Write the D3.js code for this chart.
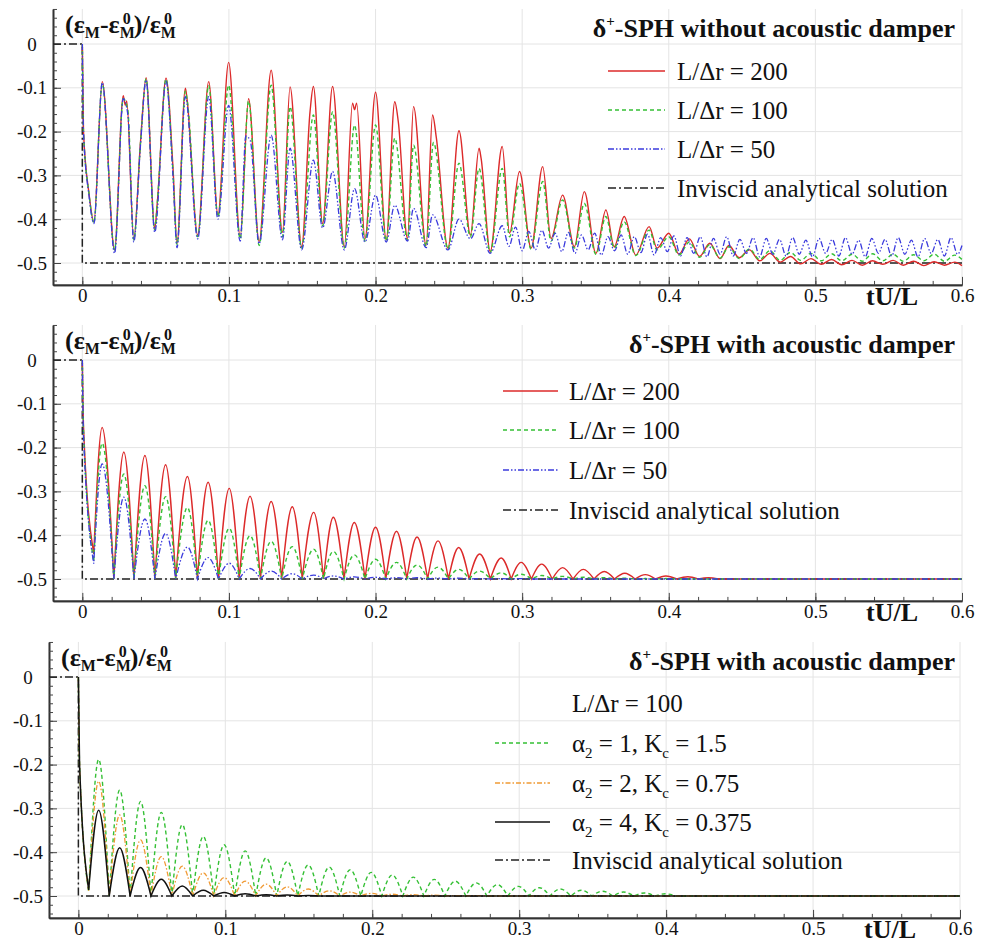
<!DOCTYPE html>
<html>
<head>
<meta charset="utf-8">
<title>Energy decay</title>
<script src="https://d3js.org/d3.v7.min.js"></script>
<style>
body { margin: 0; background: #fff; }
text { font-family: 'Liberation Serif', 'Times New Roman', serif; fill: #111; }
</style>
</head>
<body>
<script>
// ---------- data ----------
// panel 1 : delta+-SPH without acoustic damper, [tU/L, value]
var p1Red = [[0,0],[0.0008,-0.2],[0.0045,-0.34],[0.0079,-0.406],[0.0136,-0.086],[0.022,-0.47],[0.0279,-0.118],[0.0293,-0.14],[0.0303,-0.13],[0.0351,-0.445],[0.0397,-0.223],[0.0435,-0.077],[0.0494,-0.421],[0.0512,-0.36],[0.0571,-0.078],[0.0618,-0.28],[0.0646,-0.455],[0.0703,-0.101],[0.0715,-0.128],[0.0787,-0.436],[0.0862,-0.086],[0.0925,-0.39],[0.0998,-0.042],[0.1077,-0.44],[0.1134,-0.125],[0.1206,-0.451],[0.1288,-0.06],[0.1365,-0.43],[0.1417,-0.098],[0.1496,-0.463],[0.1553,-0.155],[0.1576,-0.097],[0.1639,-0.41],[0.1707,-0.097],[0.1787,-0.463],[0.1843,-0.135],[0.1857,-0.15],[0.1871,-0.135],[0.1928,-0.445],[0.2,-0.11],[0.2073,-0.447],[0.2131,-0.132],[0.2155,-0.177],[0.2218,-0.444],[0.2259,-0.143],[0.2345,-0.459],[0.2389,-0.162],[0.2415,-0.215],[0.2494,-0.466],[0.2569,-0.198],[0.2647,-0.436],[0.2706,-0.238],[0.272,-0.261],[0.2782,-0.474],[0.2864,-0.234],[0.2914,-0.432],[0.2982,-0.291],[0.3061,-0.466],[0.314,-0.28],[0.3197,-0.444],[0.3276,-0.345],[0.3356,-0.463],[0.3424,-0.337],[0.3503,-0.478],[0.3571,-0.379],[0.3628,-0.463],[0.3696,-0.394],[0.3775,-0.482],[0.3866,-0.417],[0.392,-0.466],[0.4,-0.432],[0.407,-0.48],[0.414,-0.445],[0.421,-0.485],[0.428,-0.455],[0.435,-0.49],[0.441,-0.46],[0.448,-0.488],[0.455,-0.47],[0.462,-0.495],[0.469,-0.478],[0.476,-0.498],[0.483,-0.485],[0.49,-0.502],[0.497,-0.49],[0.504,-0.503],[0.511,-0.492],[0.518,-0.504],[0.525,-0.494],[0.532,-0.505],[0.539,-0.495],[0.546,-0.503],[0.553,-0.494],[0.56,-0.505],[0.567,-0.496],[0.574,-0.506],[0.581,-0.497],[0.588,-0.505],[0.595,-0.498],[0.6,-0.506]];
var p1Green = [[0,0],[0.0008,-0.2],[0.0045,-0.34],[0.0079,-0.408],[0.0136,-0.09],[0.022,-0.47],[0.0279,-0.125],[0.031,-0.15],[0.0351,-0.447],[0.0397,-0.225],[0.0435,-0.08],[0.0494,-0.424],[0.0512,-0.36],[0.0571,-0.08],[0.0618,-0.29],[0.0646,-0.458],[0.0703,-0.108],[0.0718,-0.135],[0.0787,-0.44],[0.0862,-0.095],[0.0925,-0.395],[0.0998,-0.094],[0.1077,-0.445],[0.1134,-0.13],[0.1206,-0.46],[0.1288,-0.094],[0.1365,-0.44],[0.1417,-0.143],[0.1496,-0.466],[0.1576,-0.162],[0.1639,-0.415],[0.1707,-0.155],[0.1787,-0.466],[0.1857,-0.185],[0.1928,-0.45],[0.2,-0.185],[0.2073,-0.45],[0.2131,-0.215],[0.2218,-0.448],[0.2259,-0.231],[0.2345,-0.462],[0.2395,-0.225],[0.2494,-0.468],[0.2569,-0.272],[0.2647,-0.44],[0.2706,-0.284],[0.2782,-0.476],[0.2864,-0.284],[0.2914,-0.44],[0.2982,-0.318],[0.3061,-0.468],[0.314,-0.314],[0.3197,-0.45],[0.3276,-0.356],[0.3356,-0.466],[0.3424,-0.364],[0.3503,-0.48],[0.3571,-0.394],[0.3628,-0.466],[0.3696,-0.406],[0.3775,-0.483],[0.3866,-0.425],[0.392,-0.47],[0.4,-0.44],[0.407,-0.482],[0.414,-0.452],[0.421,-0.487],[0.428,-0.458],[0.435,-0.489],[0.441,-0.463],[0.448,-0.49],[0.455,-0.468],[0.462,-0.492],[0.469,-0.472],[0.476,-0.494],[0.483,-0.476],[0.49,-0.494],[0.497,-0.478],[0.504,-0.495],[0.511,-0.479],[0.518,-0.495],[0.525,-0.48],[0.532,-0.496],[0.539,-0.479],[0.546,-0.495],[0.553,-0.48],[0.56,-0.496],[0.567,-0.481],[0.574,-0.495],[0.581,-0.48],[0.588,-0.496],[0.595,-0.482],[0.6,-0.492]];
var p1Blue = [[0,0],[0.0008,-0.2],[0.0045,-0.345],[0.0079,-0.41],[0.0136,-0.088],[0.022,-0.478],[0.0279,-0.125],[0.031,-0.16],[0.0351,-0.452],[0.0397,-0.23],[0.0435,-0.082],[0.0494,-0.43],[0.0571,-0.085],[0.0618,-0.3],[0.0646,-0.465],[0.0703,-0.12],[0.0787,-0.445],[0.0862,-0.12],[0.0925,-0.4],[0.0998,-0.14],[0.1077,-0.45],[0.1115,-0.21],[0.1145,-0.22],[0.1206,-0.456],[0.1288,-0.208],[0.1365,-0.447],[0.1417,-0.238],[0.1496,-0.47],[0.1576,-0.265],[0.1639,-0.42],[0.1707,-0.291],[0.1787,-0.47],[0.1857,-0.33],[0.1928,-0.452],[0.2,-0.345],[0.2073,-0.452],[0.2131,-0.368],[0.2218,-0.45],[0.2259,-0.375],[0.2345,-0.465],[0.2389,-0.39],[0.2494,-0.47],[0.2569,-0.4],[0.2647,-0.445],[0.2706,-0.41],[0.2782,-0.478],[0.2864,-0.415],[0.291,-0.462],[0.2955,-0.418],[0.3,-0.472],[0.3045,-0.428],[0.309,-0.47],[0.3135,-0.425],[0.318,-0.466],[0.3225,-0.432],[0.327,-0.474],[0.3315,-0.43],[0.336,-0.478],[0.3405,-0.436],[0.345,-0.47],[0.3495,-0.432],[0.354,-0.482],[0.3585,-0.44],[0.363,-0.472],[0.3675,-0.436],[0.372,-0.48],[0.3765,-0.44],[0.381,-0.476],[0.3855,-0.434],[0.39,-0.482],[0.3945,-0.442],[0.399,-0.474],[0.4035,-0.438],[0.408,-0.484],[0.4125,-0.442],[0.417,-0.478],[0.4215,-0.44],[0.426,-0.486],[0.4305,-0.444],[0.435,-0.48],[0.4395,-0.44],[0.444,-0.484],[0.4485,-0.446],[0.453,-0.478],[0.4575,-0.442],[0.462,-0.486],[0.4665,-0.444],[0.471,-0.48],[0.4755,-0.446],[0.48,-0.484],[0.4845,-0.442],[0.489,-0.48],[0.4935,-0.448],[0.498,-0.486],[0.5025,-0.444],[0.507,-0.478],[0.5115,-0.446],[0.516,-0.484],[0.5205,-0.442],[0.525,-0.48],[0.5295,-0.448],[0.534,-0.486],[0.5385,-0.444],[0.543,-0.478],[0.5475,-0.446],[0.552,-0.484],[0.5565,-0.442],[0.561,-0.48],[0.5655,-0.448],[0.57,-0.486],[0.5745,-0.444],[0.579,-0.478],[0.5835,-0.446],[0.588,-0.484],[0.5925,-0.442],[0.597,-0.48],[0.6,-0.46]];

// panel 2 : with acoustic damper, peaks and troughs of each arch
var p2PeakT = [0.0135,0.0283,0.0427,0.0568,0.0717,0.0858,0.1002,0.1144,0.1288,0.1432,0.1578,0.1712,0.1855,0.2,0.2143,0.2283,0.2426,0.2567,0.271,0.2857,0.2993,0.3133,0.3276,0.3417,0.356,0.37,0.384,0.398,0.413,0.427];
var p2TroughT = [0.0078,0.0215,0.0352,0.0495,0.0637,0.0785,0.0929,0.107,0.1215,0.136,0.15,0.1645,0.1785,0.1928,0.207,0.2213,0.2355,0.2497,0.2638,0.2783,0.2925,0.3063,0.3205,0.3347,0.349,0.363,0.377,0.391,0.4055,0.42,0.434];
var p2Red = [-0.154,-0.21,-0.218,-0.239,-0.266,-0.279,-0.293,-0.311,-0.323,-0.335,-0.348,-0.359,-0.371,-0.382,-0.391,-0.404,-0.413,-0.428,-0.443,-0.452,-0.462,-0.466,-0.474,-0.478,-0.483,-0.487,-0.49,-0.493,-0.495,-0.497];
var p2Green = [-0.19,-0.26,-0.287,-0.312,-0.337,-0.366,-0.384,-0.401,-0.414,-0.426,-0.432,-0.437,-0.445,-0.455,-0.462,-0.468,-0.473,-0.478,-0.482,-0.486,-0.489,-0.492,-0.494,-0.496,-0.497,-0.498,-0.499,-0.499,-0.5,-0.5];
var p2Blue = [-0.237,-0.313,-0.363,-0.396,-0.427,-0.451,-0.464,-0.476,-0.482,-0.488,-0.491,-0.493,-0.495,-0.496,-0.497,-0.497,-0.498,-0.498,-0.499,-0.499,-0.499,-0.5,-0.5,-0.5,-0.5,-0.5,-0.5,-0.5,-0.5,-0.5];
var p2FirstDrop = [-0.15, -0.16, -0.17];      // value just after t=0 (red, green, blue)
var p2FirstTrough = [-0.443, -0.46, -0.465];  // first trough (red, green, blue)

// panel 3 : L/dr = 100 with three damper settings
var p3PeakT = [0.0138,0.0281,0.0423,0.0564,0.0707,0.085,0.0992,0.1135,0.1278,0.1421,0.1564,0.1707,0.185,0.1993,0.2136,0.2279,0.2422,0.2565,0.2708,0.2851,0.2994,0.3137,0.328,0.3423,0.3566,0.3709,0.3852,0.3995];
var p3TroughT = [0.007,0.021,0.0352,0.0494,0.0636,0.0778,0.0921,0.1064,0.1207,0.135,0.1493,0.1636,0.1779,0.1922,0.2065,0.2208,0.2351,0.2494,0.2637,0.278,0.2923,0.3066,0.3209,0.3352,0.3495,0.3638,0.3781,0.3924,0.4067];
var p3Green = [-0.188,-0.258,-0.284,-0.309,-0.337,-0.364,-0.383,-0.397,-0.413,-0.421,-0.429,-0.434,-0.44,-0.446,-0.452,-0.457,-0.462,-0.466,-0.47,-0.474,-0.478,-0.481,-0.484,-0.487,-0.489,-0.491,-0.493,-0.495];
var p3Orange = [-0.238,-0.315,-0.372,-0.41,-0.432,-0.447,-0.458,-0.466,-0.473,-0.479,-0.484,-0.488,-0.491,-0.494,-0.496,-0.497,-0.498,-0.499,-0.499,-0.5,-0.5,-0.5,-0.5,-0.5,-0.5,-0.5,-0.5,-0.5];
var p3Black = [-0.304,-0.39,-0.435,-0.462,-0.477,-0.487,-0.492,-0.495,-0.497,-0.498,-0.499,-0.5,-0.5,-0.5,-0.5,-0.5,-0.5,-0.5,-0.5,-0.5,-0.5,-0.5,-0.5,-0.5,-0.5,-0.5,-0.5,-0.5];
var p3FirstDrop = [-0.2, -0.2, -0.2];
var p3FirstTrough = [-0.49, -0.488, -0.486];

var FLOOR = -0.5;          // inviscid analytical level
var T_END = 0.6;
var yTicks = [0, -0.1, -0.2, -0.3, -0.4, -0.5];
var xTicks = [0, 0.1, 0.2, 0.3, 0.4, 0.5, 0.6];

// ---------- styles ----------
var SERIF = "'Liberation Serif', 'Times New Roman', serif";
var RED = "#dc2a2a", GREEN = "#35c035", BLUE = "#3b3bdd", ORANGE = "#f09a35", BLACK = "#111";
var styles = {
  red:    {color: RED, dash: null, w: 1.4},
  green:  {color: GREEN, dash: "4,3", w: 1.4},
  blue:   {color: BLUE, dash: "6,2,1.5,2,1.5,2", w: 1.3},
  orange: {color: ORANGE, dash: "5,2,1.5,2", w: 1.3},
  black:  {color: BLACK, dash: null, w: 1.5},
  inv:    {color: "#222", dash: "8,3,2,3", w: 1.5}
};

var W = 984, H = 943;
var svg = d3.select("body").append("svg").attr("width", W).attr("height", H);

// build arch series from peak / trough tables
function archSeries(peakT, troughT, peaks, firstDrop, firstTrough) {
  var pts = [[0, 0], [0.0008, firstDrop]];
  for (var i = 0; i < troughT.length; i++) {
    pts.push([troughT[i], i == 0 ? firstTrough : FLOOR]);
    if (i < peaks.length) pts.push([peakT[i], peaks[i]]);
  }
  pts.push([T_END, FLOOR]);
  return pts;
}

// path that is smooth on the crests and pointed at the troughs
function archPath(pts, x, y) {
  var line = d3.line().x(function(d){return x(d[0]);}).y(function(d){return y(d[1]);}).curve(d3.curveMonotoneX);
  var segs = [], cur = [pts[0]];
  for (var i = 1; i < pts.length; i++) {
    cur.push(pts[i]);
    if (i < pts.length - 1 && pts[i][1] < pts[i-1][1] && pts[i][1] <= pts[i+1][1]) {
      segs.push(cur); cur = [pts[i]];
    }
  }
  if (cur.length > 1) segs.push(cur);
  return segs.map(function(s, k){ var p = line(s); return k ? p.replace(/^M/, "L") : p; }).join("");
}

function smoothPath(pts, x, y) {
  return d3.line().x(function(d){return x(d[0]);}).y(function(d){return y(d[1]);}).curve(d3.curveMonotoneX)(pts);
}

function styleLine(sel, st) {
  sel.attr("fill", "none").attr("stroke", st.color).attr("stroke-width", st.w);
  if (st.dash) sel.attr("stroke-dasharray", st.dash);
  return sel;
}

// y label with stacked sub/superscripts
function epsLabel(g, x, y) {
  var t = g.append("text").attr("x", x).attr("y", y).attr("font-size", 26).attr("font-weight", "bold");
  t.append("tspan").text("(\u03B5");
  t.append("tspan").attr("font-size", 16).attr("dy", 5).text("M");
  t.append("tspan").attr("dy", -5).text("-\u03B5");
  t.append("tspan").attr("font-size", 16).attr("dy", 5).text("M");
  t.append("tspan").attr("font-size", 16).attr("dx", -12).attr("dy", -14).text("0");
  t.append("tspan").attr("dx", 3).attr("dy", 9).text(")/\u03B5");
  t.append("tspan").attr("font-size", 16).attr("dy", 5).text("M");
  t.append("tspan").attr("font-size", 16).attr("dx", -12).attr("dy", -14).text("0");
}

function titleText(g, xEnd, y, rest) {
  var t = g.append("text").attr("x", xEnd).attr("y", y).attr("text-anchor", "end")
    .attr("font-size", 26).attr("font-weight", "bold");
  t.append("tspan").text("\u03B4");
  t.append("tspan").attr("font-size", 15).attr("dy", -11).text("+");
  t.append("tspan").attr("dy", 11).text("-SPH " + rest);
}

function drawPanel(cfg) {
  var g = svg.append("g");
  var x = d3.scaleLinear().domain([-0.02, T_END]).range(cfg.xr);
  var y = d3.scaleLinear().domain([-0.55, 0.08]).range([cfg.y0 + 0.55 * 438, cfg.y0 - 0.08 * 438]);
  var yb = y(-0.55), yt = y(0.08);

  // grid
  g.selectAll("line.vg").data(xTicks).enter().append("line")
    .attr("x1", function(d){return x(d);}).attr("x2", function(d){return x(d);})
    .attr("y1", yt).attr("y2", yb).attr("stroke", "#e4e4e4").attr("stroke-width", 1);
  g.selectAll("line.hg").data(yTicks).enter().append("line")
    .attr("x1", x(-0.02)).attr("x2", x(T_END))
    .attr("y1", function(d){return y(d);}).attr("y2", function(d){return y(d);})
    .attr("stroke", "#e4e4e4").attr("stroke-width", 1);

  // axes with inward ticks
  var fmt = function(d){ return d == 0 ? "0" : d.toFixed(1); };
  var ax = g.append("g").attr("transform", "translate(0," + yb + ")")
    .call(d3.axisBottom(x).tickValues(xTicks).tickSize(-8).tickSizeOuter(0).tickPadding(4).tickFormat(fmt));
  g.append("g").attr("transform", "translate(0," + yb + ")")
    .call(d3.axisBottom(x).tickValues(d3.range(-0.02, 0.601, 0.02)).tickSize(-4).tickSizeOuter(0).tickFormat(""));
  var ay = g.append("g").attr("transform", "translate(" + cfg.xr[0] + ",0)")
    .call(d3.axisLeft(y).tickValues(yTicks).tickSize(-8).tickSizeOuter(0).tickFormat(fmt));
  g.append("g").attr("transform", "translate(" + cfg.xr[0] + ",0)")
    .call(d3.axisLeft(y).tickValues(d3.range(-0.54, 0.081, 0.02)).tickSize(-4).tickSizeOuter(0).tickFormat(""));
  g.selectAll(".domain").attr("stroke", "#333").attr("stroke-width", 1.6);
  g.selectAll(".tick line").attr("stroke", "#444");
  ax.attr("font-family", SERIF);
  ay.attr("font-family", SERIF);
  ax.selectAll("text").attr("font-size", 19).attr("fill", "#222").style("font-family", SERIF);
  ay.selectAll("text").attr("font-size", 19).attr("fill", "#222").style("font-family", SERIF)
    .attr("text-anchor", "middle").attr("x", -21);

  // inviscid analytical solution
  var inv = [[-0.02, 0], [0, 0], [0, FLOOR], [T_END, FLOOR]];
  styleLine(g.append("path").attr("d", d3.line().x(function(d){return x(d[0]);}).y(function(d){return y(d[1]);})(inv)), styles.inv);

  cfg.series.forEach(function(s){
    var d = s.arch ? archPath(s.pts, x, y) : smoothPath(s.pts, x, y);
    styleLine(g.append("path").attr("d", d), styles[s.style]);
  });

  // legend
  cfg.legend.forEach(function(e, i){
    var ly = cfg.legendY[i];
    if (e.style) styleLine(g.append("line").attr("x1", cfg.legendX[0]).attr("x2", cfg.legendX[1]).attr("y1", ly).attr("y2", ly), styles[e.style]);
    var t = g.append("text").attr("x", cfg.legendX[2]).attr("y", ly).attr("dy", "0.35em").attr("font-size", 25);
    e.parts.forEach(function(p){
      var ts = t.append("tspan").text(p[0]);
      if (p[1] == "sub") ts.attr("font-size", 15).attr("dy", 6);
      if (p[1] == "back") ts.attr("dy", -6);
    });
  });

  titleText(g, 955, cfg.y0 - 7, cfg.title);
  epsLabel(g, cfg.xr[0] + 12, cfg.y0 - 11);
  g.append("text").attr("x", x(T_END) - 44).attr("y", yb + 20).attr("text-anchor", "end")
    .attr("font-size", 26).attr("font-weight", "bold").text("tU/L");
}

var resLegend = [
  {style: "red", parts: [["L/\u0394r = 200"]]},
  {style: "green", parts: [["L/\u0394r = 100"]]},
  {style: "blue", parts: [["L/\u0394r = 50"]]},
  {style: "inv", parts: [["Inviscid analytical solution"]]}
];

drawPanel({
  y0: 44, xr: [53, 962], title: "without acoustic damper",
  series: [
    {pts: p1Red, style: "red"},
    {pts: p1Green, style: "green"},
    {pts: p1Blue, style: "blue"}
  ],
  legend: resLegend, legendX: [608, 665, 677], legendY: [71, 110, 149, 188]
});

drawPanel({
  y0: 360, xr: [53, 962], title: "with acoustic damper",
  series: [
    {pts: archSeries(p2PeakT, p2TroughT, p2Red, p2FirstDrop[0], p2FirstTrough[0]), style: "red", arch: true},
    {pts: archSeries(p2PeakT, p2TroughT, p2Green, p2FirstDrop[1], p2FirstTrough[1]), style: "green", arch: true},
    {pts: archSeries(p2PeakT, p2TroughT, p2Blue, p2FirstDrop[2], p2FirstTrough[2]), style: "blue", arch: true}
  ],
  legend: resLegend, legendX: [503, 558, 569], legendY: [391, 430, 470, 510]
});

drawPanel({
  y0: 677, xr: [49, 960], title: "with acoustic damper",
  series: [
    {pts: archSeries(p3PeakT, p3TroughT, p3Green, p3FirstDrop[0], p3FirstTrough[0]), style: "green", arch: true},
    {pts: archSeries(p3PeakT, p3TroughT, p3Orange, p3FirstDrop[1], p3FirstTrough[1]), style: "orange", arch: true},
    {pts: archSeries(p3PeakT, p3TroughT, p3Black, p3FirstDrop[2], p3FirstTrough[2]), style: "black", arch: true}
  ],
  legend: [
    {style: null, parts: [["L/\u0394r = 100"]]},
    {style: "green", parts: [["\u03B1"], ["2", "sub"], [" = 1, K", "back"], ["c", "sub"], [" = 1.5", "back"]]},
    {style: "orange", parts: [["\u03B1"], ["2", "sub"], [" = 2, K", "back"], ["c", "sub"], [" = 0.75", "back"]]},
    {style: "black", parts: [["\u03B1"], ["2", "sub"], [" = 4, K", "back"], ["c", "sub"], [" = 0.375", "back"]]},
    {style: "inv", parts: [["Inviscid analytical solution"]]}
  ],
  legendX: [495, 550, 572], legendY: [703, 743, 783, 822, 860]
});
</script>
</body>
</html>
